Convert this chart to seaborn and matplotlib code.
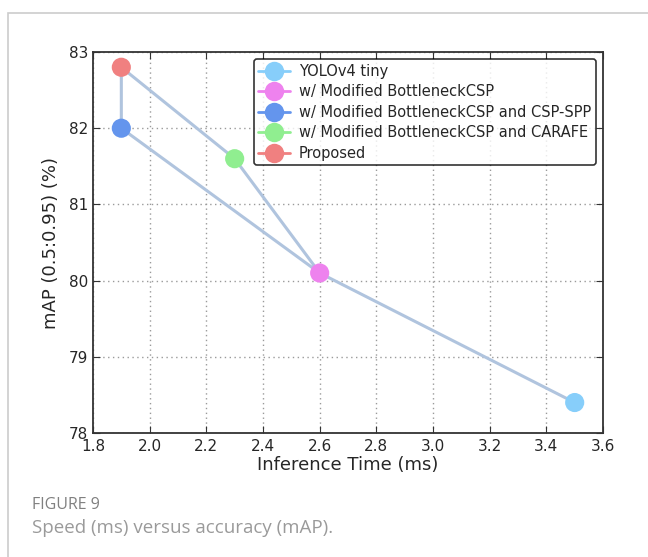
import numpy as np
import pandas as pd
import seaborn as sns
import matplotlib.pyplot as plt
from matplotlib.lines import Line2D
from matplotlib.patches import Rectangle

# model results
models = ["YOLOv4 tiny", "w/ Modified BottleneckCSP",
          "w/ Modified BottleneckCSP and CSP-SPP",
          "w/ Modified BottleneckCSP and CARAFE", "Proposed"]
inference_ms = [3.5, 2.6, 1.9, 2.3, 1.9]
map_vals = [78.4, 80.1, 82.0, 81.6, 82.8]
colors = ["lightskyblue", "violet", "cornflowerblue", "lightgreen", "lightcoral"]

# order in which the connecting line visits the models
path_order = [0, 1, 2, 4, 3, 1]

df = pd.DataFrame({"model": models, "time": inference_ms, "map": map_vals})
path = df.iloc[path_order].reset_index(drop=True)

sns.set_style("ticks")
plt.rcParams['font.family'] = ['DejaVu Sans']

fig = plt.figure(figsize=(6.48, 5.57), dpi=100)
ax = fig.add_axes([0.1435, 0.2226, 0.7871, 0.684])

sns.lineplot(data=path, x="time", y="map", sort=False, estimator=None,
             color="lightsteelblue", lw=2.2, ax=ax, zorder=2)
sns.scatterplot(data=df, x="time", y="map", hue="model", palette=colors,
                s=190, edgecolor="none", legend=False, ax=ax, zorder=3)

ax.set_xlim(1.8, 3.6)
ax.set_ylim(78, 83)
ax.set_xticks(np.arange(1.8, 3.61, 0.2))
ax.set_yticks(range(78, 84))
ax.set_xticklabels([f"{v:.1f}" for v in np.arange(1.8, 3.61, 0.2)])
ax.grid(True, linestyle=(0, (1, 2.5)), color="#9a9a9a", lw=1)
ax.tick_params(direction="in", top=True, right=True, labelsize=11, length=5,
               color="#333333")
ax.tick_params(axis="x", pad=4)
for s in ax.spines.values():
    s.set_color("#333333")
    s.set_linewidth(1.3)
ax.set_xlabel("Inference Time (ms)", fontsize=13, labelpad=2)
ax.set_ylabel("mAP (0.5:0.95) (%)", fontsize=13, labelpad=6)

handles = [Line2D([0], [0], color=c, marker="o", markersize=14, lw=2,
                  markeredgecolor="none") for c in colors]
leg = ax.legend(handles, models, loc="upper right", fontsize=10.5,
                frameon=True, fancybox=True, edgecolor="black",
                borderaxespad=0.5, handlelength=2.2, labelspacing=0.38,
                borderpad=0.3, handletextpad=0.6)
leg.get_frame().set_linewidth(1.2)

# page border and caption
fig.patches.append(Rectangle((8 / 648, -0.1), 1.1, 1 - 13 / 557 + 0.1,
                             transform=fig.transFigure, fill=False,
                             edgecolor="#cccccc", lw=1.2))
fig.text(32 / 648, 1 - 505 / 557, "FIGURE 9", fontsize=11.5, color="#808080",
         family=["Open Sans", "DejaVu Sans"], va="center")
fig.text(32 / 648, 1 - 528 / 557, "Speed (ms) versus accuracy (mAP).",
         fontsize=13.5, color="#9a9a9a", family=["Open Sans", "DejaVu Sans"],
         va="center")

fig.savefig("out.png", dpi=100)
